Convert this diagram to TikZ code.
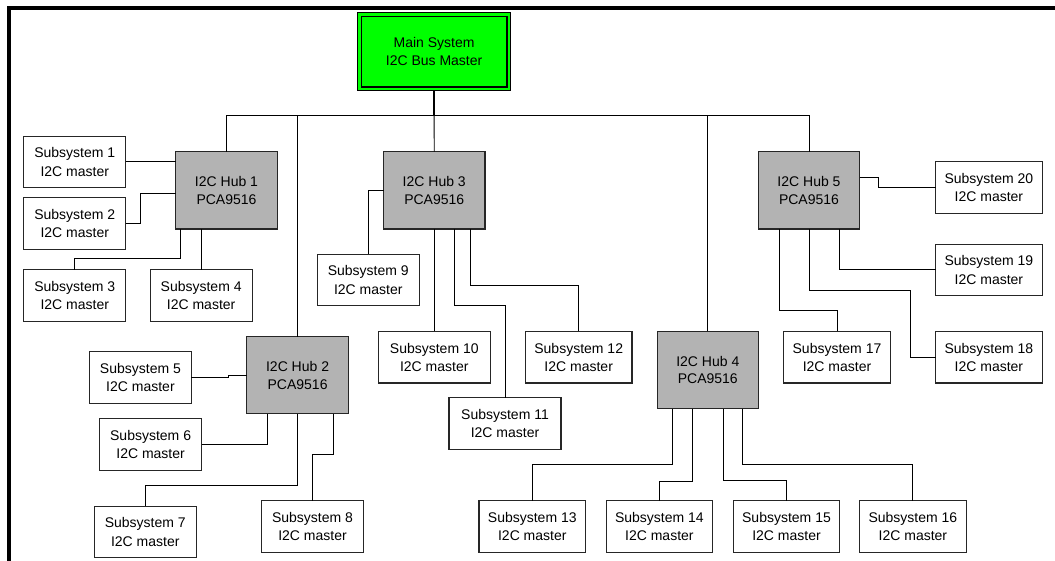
\documentclass[tikz,border=0pt]{standalone}
\usepackage{fontspec}
\setmainfont{Liberation Sans}
\definecolor{hubgray}{HTML}{B3B3B3}
\definecolor{maingreen}{HTML}{00FF00}
\begin{document}
\begin{tikzpicture}[x=1pt,y=-1pt,
  box/.style={draw=black!85,line width=1.1pt,fill=white,inner sep=0pt,outer sep=0pt,
    minimum height=51.6pt,align=center,font=\fontsize{14}{18.3}\selectfont},
  subn/.style={box,minimum width=101.8pt},
  subw/.style={box,minimum width=106.6pt},
  subx/.style={box,minimum width=112pt},
  hubbox/.style={box,fill=hubgray,minimum width=101.5pt,minimum height=77.3pt,
    font=\fontsize{14}{17.7}\selectfont},
  wire/.style={line width=0.9pt,black}]
\useasboundingbox (0,0) rectangle (1055,560);
% frame
\draw[line width=4pt] (8.8,565) -- (8.8,8.1) -- (1060,8.1);

% main system
\node[box,fill=maingreen,draw=black,line width=1.3pt,minimum width=152.8pt,minimum height=77.6pt]
  (main) at (434.1,51.5) {Main System\\I2C Bus Master};
\draw[line width=1.6pt] ([shift={(3.6pt,-3.6pt)}]main.north west) rectangle ([shift={(-3.6pt,3.6pt)}]main.south east);

% hubs
\node[hubbox] (hub1) at (226.5,190.35) {I2C Hub 1\\PCA9516};
\node[hubbox] (hub2) at (297.6,375.2) {I2C Hub 2\\PCA9516};
\node[hubbox] (hub3) at (434.25,190.35) {I2C Hub 3\\PCA9516};
\node[hubbox] (hub4) at (707.8,370) {I2C Hub 4\\PCA9516};
\node[hubbox] (hub5) at (809,190.35) {I2C Hub 5\\PCA9516};

% subsystems
\node[subn] (sub1) at (74.75,161.85) {Subsystem 1\\I2C master};
\node[subn] (sub2) at (74.75,223.5) {Subsystem 2\\I2C master};
\node[subn] (sub3) at (74.75,295.5) {Subsystem 3\\I2C master};
\node[subn] (sub4) at (201.15,295.5) {Subsystem 4\\I2C master};
\node[subn] (sub5) at (140.45,377.5) {Subsystem 5\\I2C master};
\node[subn] (sub6) at (150.6,444.5) {Subsystem 6\\I2C master};
\node[subn] (sub7) at (145.25,531.85) {Subsystem 7\\I2C master};
\node[subn] (sub8) at (312.5,526.5) {Subsystem 8\\I2C master};
\node[subn] (sub9) at (368.3,280) {Subsystem 9\\I2C master};
\node[subx] (sub10) at (434.3,357.2) {Subsystem 10\\I2C master};
\node[subx] (sub11) at (505,423.5) {Subsystem 11\\I2C master};
\node[subw] (sub12) at (578.7,357.2) {Subsystem 12\\I2C master};
\node[subw] (sub13) at (532.3,526.5) {Subsystem 13\\I2C master};
\node[subw] (sub14) at (659.4,526.5) {Subsystem 14\\I2C master};
\node[subw] (sub15) at (786.5,526.5) {Subsystem 15\\I2C master};
\node[subw] (sub16) at (912.9,526.5) {Subsystem 16\\I2C master};
\node[subw] (sub17) at (837,357.2) {Subsystem 17\\I2C master};
\node[subw] (sub18) at (988.9,357.2) {Subsystem 18\\I2C master};
\node[subw] (sub19) at (988.9,269.85) {Subsystem 19\\I2C master};
\node[subw] (sub20) at (988.9,187.5) {Subsystem 20\\I2C master};

% bus
\coordinate (bus) at (434.1,115.5);
\draw[line width=2pt] (main.south) -- (bus);
\draw[wire] (hub1.north) -- (hub1.north |- bus) -| (hub5.north);
\draw[wire] (bus) -- (hub3.north);
\draw[wire] (hub2.north) -- (hub2.north |- bus);
\draw[wire] (hub4.north) -- (hub4.north |- bus);

% hub 1
\draw[wire] (sub1.east) -- (hub1.west |- sub1.east);
\draw[wire] (sub2.east) -- ++(14.8,0) |- ([yshift=-3pt]hub1.west);
\draw[wire] ([xshift=5.1pt]hub1.south west) -- ++(0,29.3) -| (sub3.north);
\draw[wire] (sub4.north |- hub1.south) -- (sub4.north);

% hub 2
\draw[wire] (sub5.east) -- ++(36.9,0) -- ++(0,-2.3) -- (hub2.west |- 0,375.2);
\draw[wire] ([xshift=20.3pt]hub2.south west) |- (sub6.east);
\draw[wire] (hub2.south) -- ++(0,71.3) -| (sub7.north);
\draw[wire] ([xshift=-15.4pt]hub2.south east) -- ++(0,40.6) -| (sub8.north);

% hub 3
\draw[wire] (hub3.west) -| (sub9.north);
\draw[wire] (sub10.north |- hub3.south) -- (sub10.north);
\draw[wire] ([xshift=20pt]hub3.south) -- ++(0,76) -| (sub11.north);
\draw[wire] ([xshift=35.75pt]hub3.south) -- ++(0,56) -| (sub12.north);

% hub 4
\draw[wire] ([xshift=-35.3pt]hub4.south) -- ++(0,56) -| (sub13.north);
\draw[wire] ([xshift=-15.5pt]hub4.south) -- ++(0,72.7) -| (sub14.north);
\draw[wire] ([xshift=15.5pt]hub4.south) -- ++(0,71.7) -| (sub15.north);
\draw[wire] ([xshift=34.6pt]hub4.south) -- ++(0,56) -| (sub16.north);

% hub 5
\draw[wire] ([yshift=13.35pt]hub5.east) -- ++(19.1,0) |- (sub20.west);
\draw[wire] ([xshift=-20.5pt]hub5.south east) |- (sub19.west);
\draw[wire] (hub5.south) -- ++(0,61) -- ++(101.6,0) |- (sub18.west);
\draw[wire] ([xshift=-29.7pt]hub5.south) -- ++(0,81.7) -| (sub17.north);
\end{tikzpicture}
\end{document}
